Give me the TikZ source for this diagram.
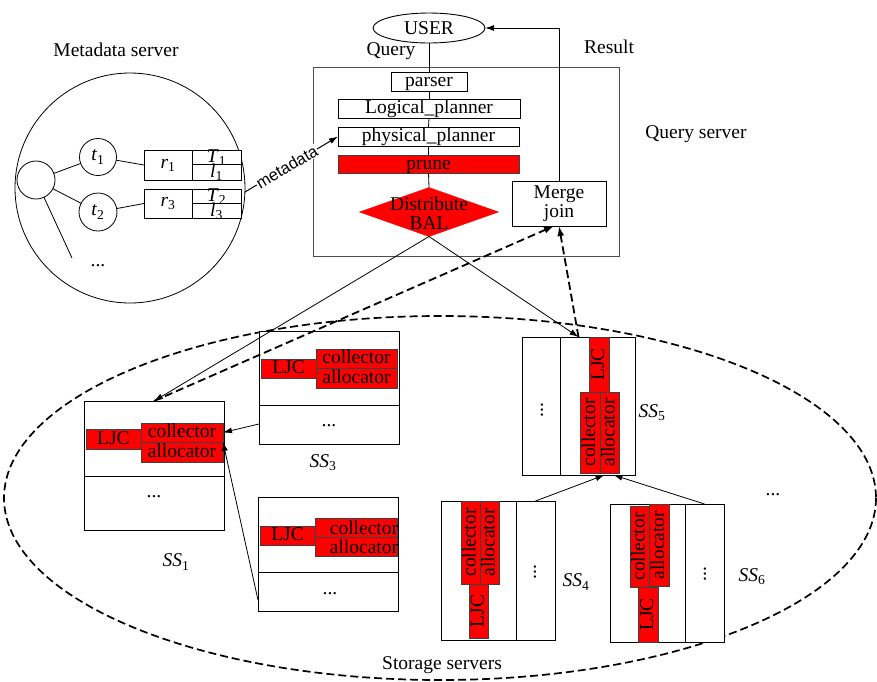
\documentclass[tikz,border=0pt]{standalone}
\usepackage{fontspec}
\setmainfont{Liberation Serif}
\setsansfont{Liberation Sans}
\usetikzlibrary{shapes.geometric,arrows.meta,calc}
\begin{document}
\begin{tikzpicture}[x=1pt,y=-1pt,
  every node/.style={font=\fontsize{19.5}{20}\selectfont, inner sep=0pt, outer sep=0pt},
  box/.style={draw, line width=0.9pt, fill=white, rectangle, inner sep=0pt, text height=13pt, text depth=4pt},
  plainbox/.style={draw, line width=0.9pt, fill=white, rectangle, inner sep=0pt},
  redbox/.style={draw=black!75, line width=0.8pt, fill=red, rectangle, inner sep=0pt, text height=13pt, text depth=3pt},
  circ/.style={draw, line width=0.8pt, circle, inner sep=0pt},
  thinarrow/.style={line width=0.8pt, -{Latex[length=9pt,width=6pt]}},
  dasharrow/.style={line width=1.8pt, dash pattern=on 8pt off 4pt, -{Latex[length=10pt,width=7pt]}},
  conn/.style={line width=0.8pt},
  vdots/.style={rotate=90}
]
\useasboundingbox (0,0) rectangle (877,681);

% ---------- storage servers ellipse ----------
\draw[line width=1.7pt, dash pattern=on 8pt off 4pt] (440,498) ellipse [x radius=436, y radius=182];
\node (storlbl) at (442,665) {Storage servers};

% ---------- metadata server ----------
\node (mdlbl) at (116,50) {Metadata server};
\node[circ, minimum size=230] (md) at (130,188) {};
\node[circ, minimum size=38] (root) at (36,180) {};
\node[circ, minimum size=37] (t1) at (98,157) {\textit{t}\textsubscript{1}};
\node[circ, minimum size=38] (t2) at (98,212) {\textit{t}\textsubscript{2}};
\coordinate (rootend) at (72,258);
\node (mddots) at (98,266) {...};
\node[plainbox, minimum width=48, minimum height=30] (r1) at (168,165) {\textit{r}\textsubscript{1}};
\node[plainbox, minimum width=49, minimum height=14] (T1box) at (216.5,157) {};
\node[plainbox, minimum width=49, minimum height=16] (l1box) at (216.5,172) {};
\node[plainbox, minimum width=48, minimum height=29] (r3) at (168,203.5) {\textit{r}\textsubscript{3}};
\node[plainbox, minimum width=49, minimum height=14] (T2box) at (216.5,196) {};
\node[plainbox, minimum width=49, minimum height=15] (l3box) at (216.5,210.5) {};
\node (T1) at (216.5,158) {\textit{T}\textsubscript{1}};
\node (l1) at (216.5,172) {\textit{l}\textsubscript{1}};
\node (T2) at (216.5,197) {\textit{T}\textsubscript{2}};
\node (l3) at (216.5,211) {\textit{l}\textsubscript{3}};
\draw[conn] (root) -- (t1);
\draw[conn] (root) -- (t2);
\draw[conn] (root) -- (rootend);
\draw[conn] (t1) -- (r1.west);
\draw[conn] (t2) -- (r3.west);

% ---------- query server ----------
\node[draw=black!70, line width=0.9pt, rectangle, minimum width=306, minimum height=189] (qs) at (466,161.5) {};
\node (qslbl) at (696,134) {Query server};
\node[draw, line width=0.9pt, ellipse, minimum width=112, minimum height=30, fill=white] (user) at (429,28) {USER};
\node (querylbl) at (391,51) {Query};
\node (resultlbl) at (609,47) {Result};
\node[box, minimum width=76, minimum height=19] (parser) at (429,81.5) {parser};
\node[box, minimum width=182, minimum height=19] (logical) at (429,108.5) {Logical\_planner};
\node[box, minimum width=181, minimum height=19] (physical) at (428.5,136.5) {physical\_planner};
\node[redbox, minimum width=181, minimum height=18] (prune) at (428.5,164) {prune};
\node[diamond, draw=red, fill=red, minimum width=139, minimum height=49, inner sep=0pt] (bal) at (429,212) {};
\node[align=center, font=\fontsize{19.5}{19}\selectfont] (baltxt) at (429,213) {Distribute\\BAL};
\node[plainbox, minimum width=94, minimum height=45, align=center, font=\fontsize{19.5}{19}\selectfont] (merge) at (559,203.5) {Merge\\join};

\draw[conn] (user.south) -- (parser.north);
\draw[conn] (parser.south) -- (logical.north);
\draw[conn] (logical.south) -- (physical.north);
\draw[conn] (physical.south) -- (prune.north);
\draw[conn] (prune.south) -- (bal.north);
\draw[thinarrow, line width=1pt] (merge.north) |- (user.east);

\draw[thinarrow, line width=1pt] (md.-2) -- node[pos=0.45, sloped, fill=white, inner sep=0.5pt, font=\sffamily\fontsize{16.5}{17}\selectfont] (metalbl) {metadata} (physical.west);

% ---------- SS1 ----------
\node[plainbox, minimum width=140, minimum height=129] (ss1) at (154,465.5) {};
\draw[conn] ($(ss1.north west)+(0,75)$) -- ($(ss1.north east)+(0,75)$);
\node[redbox, minimum width=55, minimum height=20] (ljc1) at (113.5,439) {LJC};
\node[redbox, minimum width=82, minimum height=19] (col1) at (182,432.5) {collector};
\node[redbox, minimum width=82, minimum height=20] (alloc1) at (182,452) {allocator};
\node (ss1dots) at (154,497) {...};
\node (ss1lbl) at (176,562) {\textit{SS}\textsubscript{1}};

% ---------- SS3 ----------
\node[plainbox, minimum width=140, minimum height=113] (ss3) at (329,387.5) {};
\draw[conn] ($(ss3.north west)+(0,74)$) -- ($(ss3.north east)+(0,74)$);
\node[redbox, minimum width=55, minimum height=19] (ljc3) at (288.5,368.5) {LJC};
\node[redbox, minimum width=81, minimum height=19] (col3) at (356.5,358.5) {collector};
\node[redbox, minimum width=81, minimum height=20] (alloc3) at (356.5,378) {allocator};
\node (ss3dots) at (329,426) {...};
\node (ss3lbl) at (323,463) {\textit{SS}\textsubscript{3}};

% ---------- SS7 (unlabelled) ----------
\node[plainbox, minimum width=140, minimum height=114] (ss7) at (328,554) {};
\draw[conn] ($(ss7.north west)+(0,75)$) -- ($(ss7.north east)+(0,75)$);
\node[redbox, minimum width=55, minimum height=19] (ljc7) at (287.5,535.5) {LJC};
\node[redbox, minimum width=82, minimum height=19] (col7) at (356,527.5) {};
\node[redbox, minimum width=82, minimum height=19] (alloc7) at (356,546.5) {};
\begin{scope}
\clip (ss7.north west) rectangle (ss7.south east);
\node (col7t) at (364,527.5) {collector};
\node (alloc7t) at (364,546.5) {allocator};
\end{scope}
\node (ss7dots) at (330,594) {...};

% ---------- SS5 ----------
\node[plainbox, minimum width=113, minimum height=138] (ss5) at (578.5,406) {};
\draw[conn] ($(ss5.north west)+(38,0)$) -- ($(ss5.south west)+(38,0)$);
\node[redbox, rotate=90, minimum width=55, minimum height=20] (ljc5) at (599,364.5) {LJC};
\node[redbox, rotate=90, minimum width=81, minimum height=20] (col5) at (590,432.5) {collector};
\node[redbox, rotate=90, minimum width=81, minimum height=19] (alloc5) at (609.5,432.5) {allocator};
\node[vdots] (ss5dots) at (542,410) {...};
\node (ss5lbl) at (652,413) {\textit{SS}\textsubscript{5}};

% ---------- SS4 ----------
\node[plainbox, minimum width=114, minimum height=139] (ss4) at (498,570.5) {};
\draw[conn] ($(ss4.north east)+(-39,0)$) -- ($(ss4.south east)+(-39,0)$);
\node[redbox, rotate=90, minimum width=83, minimum height=19] (col4) at (470.5,542.5) {collector};
\node[redbox, rotate=90, minimum width=83, minimum height=19] (alloc4) at (489.5,542.5) {allocator};
\node[redbox, rotate=90, minimum width=54, minimum height=19] (ljc4) at (478.5,611) {LJC};
\node[vdots] (ss4dots) at (535,572) {...};
\node (ss4lbl) at (576,582) {\textit{SS}\textsubscript{4}};

% ---------- SS6 ----------
\node[plainbox, minimum width=114, minimum height=138] (ss6) at (667,573) {};
\draw[conn] ($(ss6.north east)+(-39,0)$) -- ($(ss6.south east)+(-39,0)$);
\node[redbox, rotate=90, minimum width=81, minimum height=19] (col6) at (639.5,546.5) {collector};
\node[redbox, rotate=90, minimum width=82, minimum height=20] (alloc6) at (659,545) {allocator};
\node[redbox, rotate=90, minimum width=55, minimum height=20] (ljc6) at (648,614.5) {LJC};
\node[vdots] (ss6dots) at (705,574) {...};
\node (ss6lbl) at (752,577) {\textit{SS}\textsubscript{6}};

\node (moredots) at (773,495) {...};

% ---------- connectors ----------
\draw[thinarrow] (bal.south) -- (ss1.north);
\draw[thinarrow] (bal.south) -- (ss5.north);
\draw[dasharrow] (ss1.north) -- ($(merge.south)+(-5,0)$);
\draw[dasharrow] (ss5.north) -- (merge.south);
\draw[thinarrow] ($(ss3.south west)+(0,-20)$) -- (col1.east);
\draw[thinarrow] ($(ss7.south west)+(0,-11)$) -- (col1.south east);
\draw[thinarrow] ($(ss4.north east)+(-19.5,0)$) -- ($(ss5.south)+(26,0)$);
\draw[thinarrow] ($(ss6.north east)+(-19.5,0)$) -- ($(ss5.south)+(35,0)$);
\end{tikzpicture}
\end{document}
